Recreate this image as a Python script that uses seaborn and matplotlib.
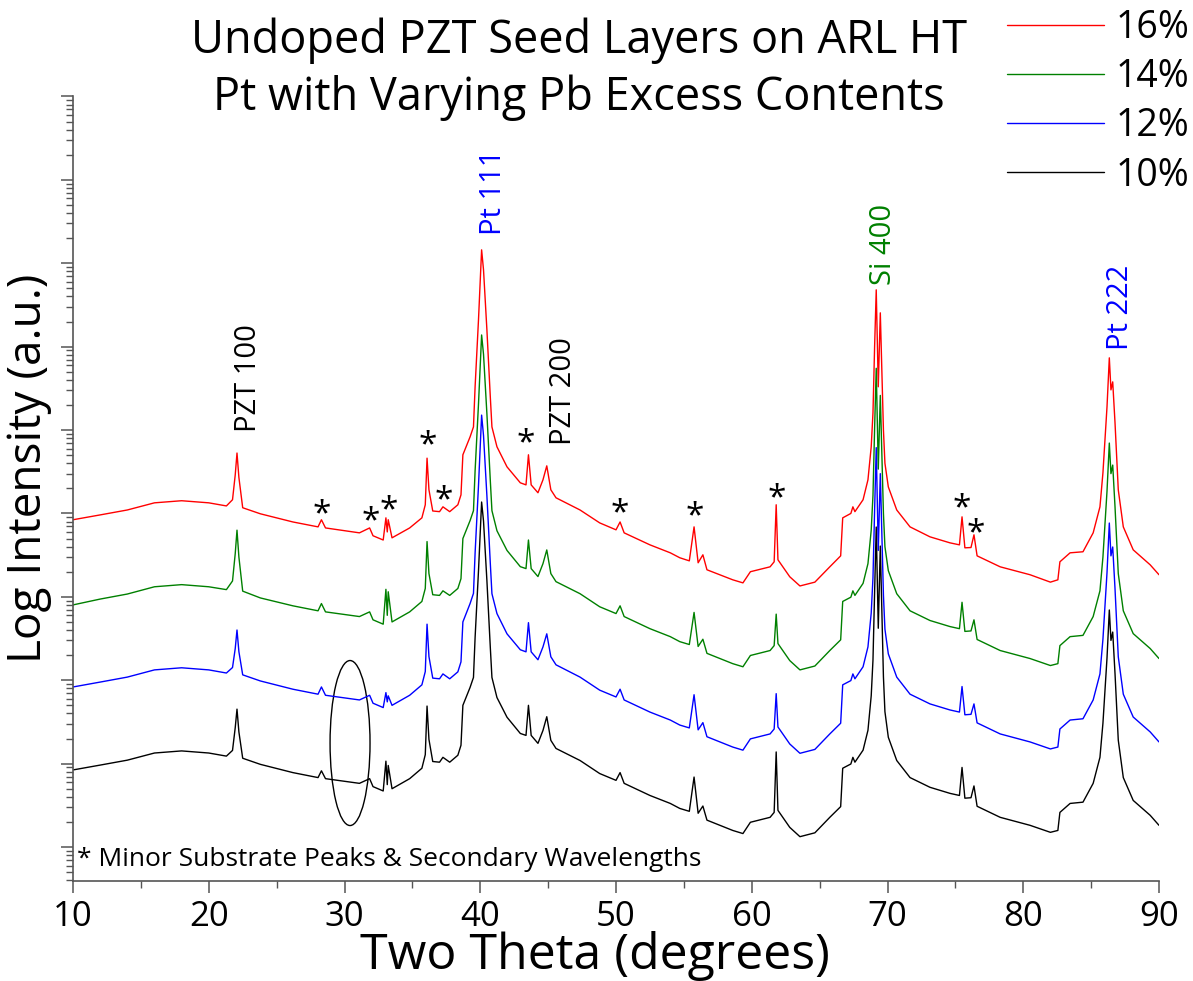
import numpy as np
import pandas as pd
import matplotlib
matplotlib.use("Agg")
import matplotlib.pyplot as plt
from matplotlib.patches import Ellipse
from matplotlib.ticker import LogLocator, NullFormatter, MultipleLocator
import seaborn as sns

# ---- diffraction data (2-theta in degrees, intensity in arbitrary units) ----
two_theta = [
    10.0, 12.0, 14.0, 16.0, 18.0, 20.0, 21.3, 21.75, 21.95, 22.08, 22.22, 22.5, 23.8, 26.2,
    28.05, 28.3, 28.6, 31.1, 31.85, 32.1, 32.85, 33.05, 33.15, 33.22, 33.5, 34.8,
    35.7, 35.95, 36.08, 36.22, 36.5, 37.0, 37.25, 37.75, 38.35, 38.58, 38.72,
    39.25, 39.5, 39.62, 39.87, 40.1, 40.24, 40.49, 40.74, 40.86, 41.23, 41.97, 42.95,
    43.37, 43.55, 43.75, 44.25, 44.62, 44.9, 45.2, 45.58, 47.35, 48.8,
    50.0, 50.3, 50.6, 52.5, 54.0, 54.7, 55.4, 55.75, 56.05, 56.4, 56.7,
    58.6, 59.35, 59.9, 61.35, 61.65, 61.8, 61.93, 62.8, 63.55, 64.65, 65.75,
    66.55, 66.7, 67.3, 67.45, 67.6, 68.2, 68.56, 68.8, 68.93, 69.05, 69.17, 69.32, 69.47,
    69.7, 69.81, 70.06, 70.68, 71.66, 73.13, 74.6, 75.3, 75.49, 75.7, 76.15, 76.37, 76.6,
    78.3, 80.5, 82.0, 82.55, 82.7, 83.45, 84.4, 85.15, 85.65, 85.87, 86.17, 86.34,
    86.46, 86.59, 86.76, 87.0, 87.37, 88.1, 89.35, 90.0,
]

pb16 = [
    8.4, 9.6, 11.0, 13.4, 14.2, 13.4, 12.3, 14.6, 29, 53, 27, 11.7, 9.9, 7.9,
    6.9, 8.4, 6.7, 5.85, 6.7, 5.4, 4.8, 8.85, 6.0, 8.4, 5.1, 6.7,
    8.85, 12.7, 46, 19.2, 10.7, 10.5, 12.0, 10.5, 12.7, 16.7, 50.5,
    82.8, 109, 330, 2096, 14480, 8340, 1585, 250, 109, 63, 36.2, 23.3,
    22, 50.5, 22, 17.7, 25.3, 37.2, 19.2, 15.4, 11.0, 7.7,
    6.36, 7.9, 5.85, 4.2, 3.37, 2.94, 2.70, 6.9, 2.56, 3.19, 2.11,
    1.60, 1.47, 2.0, 2.29, 2.63, 12.7, 2.78, 1.74, 1.35, 1.5, 2.29,
    3.1, 8.85, 10.0, 12.0, 10.5, 14.6, 25.3, 63, 161, 1000, 4800, 330, 2543,
    100, 40, 20.8, 11.0, 6.9, 5.24, 4.44, 4.2, 9.1, 3.87, 3.9, 5.54, 3.1,
    2.29, 1.84, 1.5, 1.6, 2.63, 3.37, 3.47, 5.85, 12.0, 30.7, 190, 734,
    303, 378, 122, 19.2, 6.9, 3.66, 2.42, 1.84,
]

pb14 = [
    8.0, 9.4, 10.8, 13.2, 14.0, 13.2, 12.2, 15.5, 33, 63, 30, 11.7, 9.7, 7.8,
    6.8, 8.3, 6.6, 5.8, 6.6, 5.3, 4.7, 12.3, 6.0, 11.5, 5.0, 6.6,
    8.8, 12.6, 46, 19.0, 10.6, 10.4, 11.8, 10.4, 12.6, 16.5, 50.0,
    82.0, 108, 325, 2050, 13800, 8100, 1560, 248, 108, 62, 36.0, 23.0,
    21.8, 48.0, 21.8, 17.5, 25.0, 36.5, 19.0, 15.2, 10.9, 7.6,
    6.3, 7.8, 5.8, 4.15, 3.33, 2.9, 2.68, 6.5, 2.54, 3.1, 2.1,
    1.58, 1.45, 1.98, 2.27, 2.6, 6.2, 2.75, 1.72, 1.33, 1.48, 2.27,
    3.05, 8.8, 9.9, 11.8, 10.4, 14.5, 25.0, 63, 165, 1050, 5500, 340, 2600,
    100, 40, 20.6, 10.9, 6.8, 5.2, 4.4, 4.15, 8.6, 3.85, 3.9, 5.3, 3.08,
    2.27, 1.82, 1.5, 1.58, 2.6, 3.33, 3.45, 5.8, 11.8, 30.0, 185, 698,
    300, 380, 120, 19.0, 6.8, 3.62, 2.4, 1.82,
]

pb12 = [
    8.3, 9.5, 10.9, 13.3, 14.1, 13.3, 12.2, 14.2, 24, 40, 22, 11.6, 9.8, 7.8,
    6.8, 8.3, 6.6, 5.8, 6.6, 5.3, 4.7, 7.1, 5.5, 6.5, 5.0, 6.6,
    8.8, 12.7, 47, 19.2, 10.6, 10.4, 11.9, 10.4, 12.6, 16.6, 50.0,
    83.0, 110, 335, 2150, 15100, 8600, 1620, 252, 109, 63, 36.0, 23.2,
    21.9, 49.0, 21.9, 17.6, 25.1, 36.0, 19.1, 15.3, 10.9, 7.6,
    6.3, 7.8, 5.8, 4.15, 3.33, 2.9, 2.68, 6.7, 2.54, 3.1, 2.1,
    1.58, 1.45, 1.98, 2.27, 2.6, 6.9, 2.75, 1.72, 1.33, 1.48, 2.27,
    3.05, 8.8, 9.9, 11.9, 10.4, 14.5, 25.1, 64, 170, 1100, 6150, 360, 3000,
    105, 41, 20.7, 10.9, 6.8, 5.2, 4.4, 4.15, 8.4, 3.85, 3.9, 5.2, 3.08,
    2.27, 1.82, 1.5, 1.58, 2.6, 3.33, 3.45, 5.8, 11.9, 31.0, 195, 767,
    310, 396, 125, 19.1, 6.8, 3.62, 2.4, 1.82,
]

pb10 = [
    8.4, 9.6, 11.0, 13.4, 14.2, 13.4, 12.3, 14.4, 27, 45, 24, 11.6, 9.8, 7.8,
    6.8, 8.2, 6.6, 5.8, 6.6, 5.3, 4.7, 10.7, 5.6, 9.5, 5.0, 6.6,
    8.8, 12.8, 49, 19.5, 10.6, 10.4, 11.9, 10.4, 12.6, 16.6, 50.0,
    82.0, 108, 325, 2050, 13700, 8100, 1560, 248, 108, 62, 36.0, 23.0,
    21.8, 50.0, 21.8, 17.5, 25.0, 36.5, 19.0, 15.2, 10.9, 7.6,
    6.3, 7.8, 5.8, 4.15, 3.33, 2.9, 2.68, 6.9, 2.54, 3.1, 2.1,
    1.58, 1.45, 1.98, 2.27, 2.6, 13.8, 2.75, 1.72, 1.33, 1.48, 2.27,
    3.05, 8.8, 9.9, 11.9, 10.4, 14.5, 25.1, 65, 175, 1150, 6870, 420, 4060,
    110, 42, 20.7, 10.9, 6.8, 5.2, 4.4, 4.15, 9.0, 3.85, 3.9, 5.4, 3.08,
    2.27, 1.82, 1.5, 1.58, 2.6, 3.33, 3.45, 5.8, 11.9, 30.5, 185, 695,
    300, 378, 120, 19.1, 6.8, 3.62, 2.4, 1.82,
]

samples = ["16%", "14%", "12%", "10%"]
sample_counts = [pb16, pb14, pb12, pb10]
stack_factor = {"16%": 1000, "14%": 100, "12%": 10, "10%": 1}
colors = {"16%": "#ff0000", "14%": "#008000", "12%": "#0000ff", "10%": "#000000"}

# peak labels: (text, 2-theta, intensity at label base, colour)
peak_labels = [
    ("PZT 100", 22.9, 10 ** 4.98, "black"),
    ("Pt 111", 40.94, 10 ** 7.34, "#0000ff"),
    ("PZT 200", 46.1, 10 ** 4.82, "black"),
    ("Si 400", 69.74, 10 ** 6.74, "#008000"),
    ("Pt 222", 87.2, 10 ** 5.96, "#0000ff"),
]

# minor substrate / secondary wavelength markers on the 16% pattern
star_theta = [28.34, 31.95, 33.28, 36.15, 37.33, 43.37, 50.29, 55.82, 61.86, 75.49, 76.52]
star_level = [3.98, 3.90, 4.03, 4.81, 4.15, 4.84, 4.00, 3.96, 4.17, 4.05, 3.75]

# ---- long-form table, each pattern stacked one decade above the next ----
frames = []
for name, counts in zip(samples, sample_counts):
    frames.append(pd.DataFrame({
        "two_theta": two_theta,
        "intensity": np.asarray(counts, dtype=float) * stack_factor[name],
        "sample": name,
    }))
df = pd.concat(frames, ignore_index=True)

sns.set_theme(style="ticks")
plt.rcParams["font.family"] = ["Open Sans", "DejaVu Sans"]
plt.rcParams["text.color"] = "black"
plt.rcParams["axes.labelcolor"] = "black"
plt.rcParams["xtick.color"] = "black"
plt.rcParams["ytick.color"] = "black"

fig = plt.figure(figsize=(11.93, 9.81), dpi=100)
ax = fig.add_axes([0.0612, 0.1019, 0.9103, 0.8002])

sns.lineplot(data=df, x="two_theta", y="intensity", hue="sample",
             hue_order=samples, palette=colors, estimator=None, sort=False,
             linewidth=1.0, ax=ax)

ax.set_yscale("log")
ax.set_xlim(10, 90)
ax.set_ylim(10 ** -0.408, 10 ** 9.005)

ax.xaxis.set_major_locator(MultipleLocator(10))
ax.xaxis.set_minor_locator(MultipleLocator(5))
ax.yaxis.set_major_locator(LogLocator(base=10, numticks=100))
ax.yaxis.set_minor_locator(LogLocator(base=10, subs=np.arange(2, 10), numticks=100))
ax.yaxis.set_major_formatter(NullFormatter())
ax.yaxis.set_minor_formatter(NullFormatter())

for side in ("top", "right"):
    ax.spines[side].set_visible(False)
for side in ("left", "bottom"):
    ax.spines[side].set_color("#555555")
    ax.spines[side].set_linewidth(1.2)
ax.tick_params(which="major", direction="out", length=8.5, width=1.1, color="#555555",
               labelsize=25, pad=5, labelcolor="black")
ax.tick_params(which="minor", direction="out", length=5, width=1.0, color="#555555")

ax.set_xlabel("Two Theta (degrees)", fontsize=36)
ax.set_ylabel("Log Intensity (a.u.)", fontsize=33)
ax.xaxis.set_label_coords(0.4807, -0.064)
ax.yaxis.set_label_coords(-0.019, 0.526)

fig.text(0.4853, 0.958, "Undoped PZT Seed Layers on ARL HT", ha="center", va="center",
         fontsize=32.5, color="black")
fig.text(0.4853, 0.900, "Pt with Varying Pb Excess Contents", ha="center", va="center",
         fontsize=32.5, color="black")

for text, tt, level, col in peak_labels:
    ax.text(tt, level, text, rotation=90, ha="center", va="bottom", fontsize=21, color=col)

for tt, lv in zip(star_theta, star_level):
    ax.text(tt, 10 ** lv, "*", ha="center", va="center", fontsize=24, color="black")

ax.text(0.004, 0.027, "* Minor Substrate Peaks & Secondary Wavelengths",
        transform=ax.transAxes, ha="left", va="center", fontsize=19, color="black")

ax.add_patch(Ellipse((0.2551, 0.1758), 0.0368, 0.2102, transform=ax.transAxes,
                     fill=False, edgecolor="black", linewidth=1.0))

sns.move_legend(ax, "upper right", bbox_to_anchor=(0.997, 0.991),
                bbox_transform=fig.transFigure, frameon=False, title=None,
                borderpad=0, borderaxespad=0, handlelength=2.6, handletextpad=0.3,
                labelspacing=0.3, fontsize=27)
for line in ax.get_legend().get_lines():
    line.set_linewidth(1.0)
for txt in ax.get_legend().get_texts():
    txt.set_color("black")

fig.savefig("out.png", dpi=100)
